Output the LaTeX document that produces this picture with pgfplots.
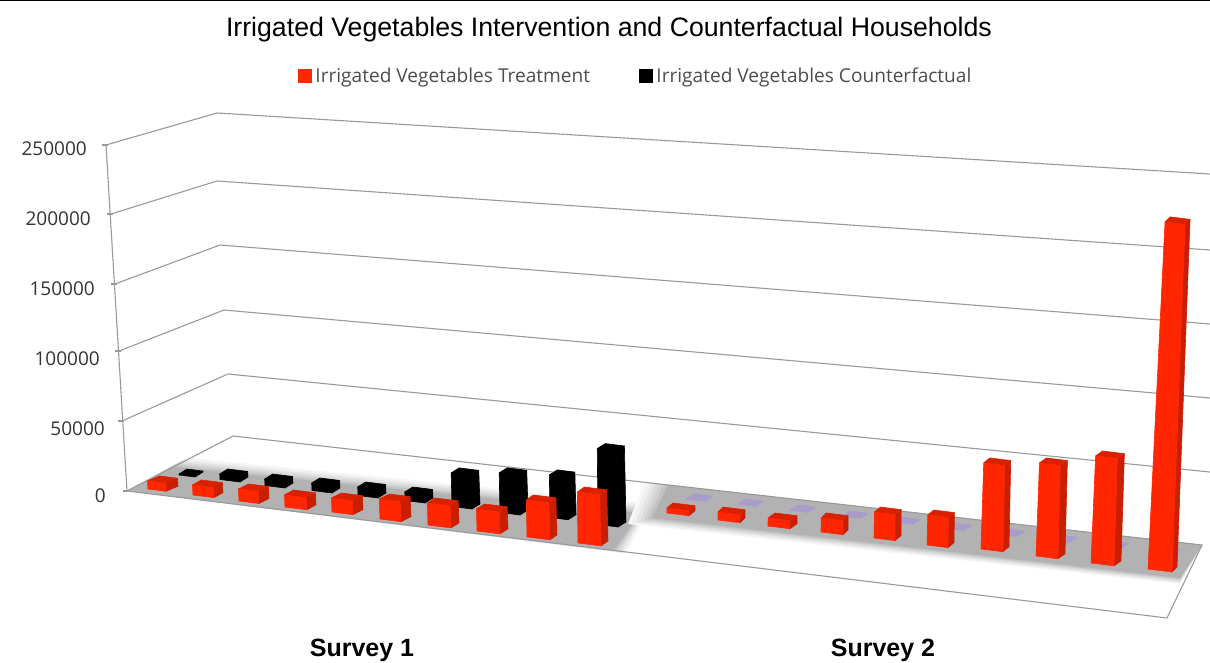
\documentclass[border=0pt]{standalone}
\usepackage{fontspec}
\setmainfont{Liberation Sans}
\newfontfamily\chartfont{Open Sans}
\usepackage{pgfplots}
\pgfplotsset{compat=1.18}

\definecolor{barred}{HTML}{FF2600}
\definecolor{barredside}{HTML}{C91E00}
\definecolor{barredtop}{HTML}{D92100}
\definecolor{lav}{HTML}{A99CCB}
\definecolor{wall}{HTML}{999999}

% One filled polygon in picture coordinates
\newcommand{\poly}[2]{%
  \edef\next{\noexpand\addplot[forget plot,#1] coordinates {#2};}\next}

% Box on the floor: left x, floor y, width, value in thousands, depth, colours.
% The vertical scale and the lean of the uprights follow the perspective.
\newcommand{\barbox}[8]{%
  \pgfmathsetmacro\kk{69+(#1-127)*0.0106}%
  \pgfmathsetmacro\hh{#4/50*\kk}%
  \pgfmathsetmacro\lean{-0.06+(#1-127)*0.00011}%
  \pgfmathsetmacro\xtl{#1+\hh*\lean}%
  \pgfmathsetmacro\wt{#3-0.0115*\hh}%
  \pgfmathsetmacro\ytl{#2-\hh}%
  \pgfmathsetmacro\xtr{\xtl+\wt}%
  \pgfmathsetmacro\ytr{\ytl+0.125*\wt}%
  \pgfmathsetmacro\xbr{#1+#3}%
  \pgfmathsetmacro\ybr{#2+0.125*#3}%
  \pgfmathsetmacro\xbb{\xbr+#5}%
  \pgfmathsetmacro\ybb{\ybr-5}%
  \pgfmathsetmacro\xtb{\xtr+#5}%
  \pgfmathsetmacro\ytb{\ytr-5}%
  \pgfmathsetmacro\xtc{\xtl+#5}%
  \pgfmathsetmacro\ytc{\ytl-5}%
  \poly{fill=#7,draw=#7,line width=.6pt,line join=round}{(\xbr,\ybr)(\xbb,\ybb)(\xtb,\ytb)(\xtr,\ytr)(\xbr,\ybr)}%
  \poly{fill=#8,draw=#8,line width=.6pt,line join=round}{(\xtl,\ytl)(\xtr,\ytr)(\xtb,\ytb)(\xtc,\ytc)(\xtl,\ytl)}%
  \poly{fill=#6,draw=#6,line width=.6pt,line join=round}{(#1,#2)(\xbr,\ybr)(\xtr,\ytr)(\xtl,\ytl)(#1,#2)}%
}
\newcommand{\redbar}[5]{\barbox{#1}{#2}{#3}{#4}{#5}{barred}{barredside}{barredtop}}
\newcommand{\blackbar}[5]{\barbox{#1}{#2}{#3}{#4}{#5}{black}{black}{black}}
\newcommand{\lavbar}[2]{\barbox{#1}{#2}{18}{0}{8}{lav}{lav}{lav}}

% Grey floor bands with a soft edge, first argument = how far the edge spreads
\newcommand{\bandone}[2]{%
  \pgfmathsetmacro\pax{172+1.2*#1}\pgfmathsetmacro\pay{467-0.8*#1}%
  \pgfmathsetmacro\pbx{640+#1}\pgfmathsetmacro\pby{513-0.8*#1}%
  \pgfmathsetmacro\pcx{614+#1}\pgfmathsetmacro\pcy{550+0.3*#1}%
  \poly{fill=#2,draw=none}{(127,491)(\pax,\pay)(\pbx,\pby)(\pcx,\pcy)(127,491)}}
\newcommand{\bandtwo}[2]{%
  \pgfmathsetmacro\pax{668-2*#1}\pgfmathsetmacro\pay{436+(\pax-233)*0.1127}%
  \pgfmathsetmacro\pcy{578+0.5*#1}\pgfmathsetmacro\pdx{652-2*#1}\pgfmathsetmacro\pdy{518+0.5*#1}%
  \poly{fill=#2,draw=none}{(\pax,\pay)(1202,545)(1180,\pcy)(\pdx,\pdy)(\pax,\pay)}}

\begin{document}
\begin{tikzpicture}
\begin{axis}[
  at={(110pt,23pt)},
  scale only axis, width=1100pt, height=610pt,
  xmin=110, xmax=1210, ymin=30, ymax=640, y dir=reverse,
  clip=false,
  axis line style={draw=none},
  major tick length=0pt,
  xtick={362,883},
  xticklabels={Survey 1,Survey 2},
  xticklabel style={font=\fontsize{25}{25}\selectfont\bfseries, yshift=3pt, inner sep=2pt},
  ytick={148,218,288,358,428,495},
  yticklabels={%
    250000\rule{23pt}{0pt},200000\rule{19pt}{0pt},150000\rule{15pt}{0pt},%
    100000\rule{10pt}{0pt},50000\rule{5pt}{0pt},0\rule{4pt}{0pt}},
  yticklabel style={font=\chartfont\fontsize{19}{19}\selectfont, text=black!80, inner sep=0pt, yshift=-1pt},
  title={Irrigated Vegetables Intervention and Counterfactual Households},
  title style={font=\fontsize{26.7}{27}\selectfont, at={(0.4536,1)}, anchor=south, inner sep=0pt, yshift=-18pt},
  legend columns=2,
  legend style={draw=none, fill=none, at={(0.4775,0.9246)}, anchor=center,
    font=\chartfont\fontsize{19.1}{19.1}\selectfont, text=black!70,
    inner sep=0pt, nodes={inner sep=1pt},
    /tikz/every even column/.append style={column sep=48pt}},
  legend image code/.code={\fill[#1] (0pt,-6pt) rectangle (13pt,7pt);\path (16pt,0pt);},
]
\addlegendimage{barred}
\addlegendentry{Irrigated Vegetables Treatment}
\addlegendimage{black}
\addlegendentry{Irrigated Vegetables Counterfactual}

% Rule along the top edge
\poly{draw=black,line width=1pt}{(0,0.5)(1210,0.5)}

% Back wall grid, one line per 50000
\poly{draw=wall,line width=1.1pt}{(106,145)(217,113)(1210,174)}
\poly{draw=wall,line width=1.1pt}{(111,214)(217,181)(1210,250)}
\poly{draw=wall,line width=1.1pt}{(115,284)(220,245)(1210,324)}
\poly{draw=wall,line width=1.1pt}{(119,351)(224,310)(1210,398)}
\poly{draw=wall,line width=1.1pt}{(122,421)(228,374)(1210,472)}
% Value axis and its ticks
\poly{draw=wall,line width=1.1pt}{(106,145)(127,491)}
\poly{draw=wall,line width=1.1pt}{(102,145)(108,145)}
\poly{draw=wall,line width=1.1pt}{(107,214)(113,214)}
\poly{draw=wall,line width=1.1pt}{(111,284)(117,284)}
\poly{draw=wall,line width=1.1pt}{(115,351)(121,351)}
\poly{draw=wall,line width=1.1pt}{(118,421)(124,421)}
\poly{draw=wall,line width=1.1pt}{(123,491)(129,491)}

% Floor bands, lightest spread first
\bandone{12}{black!3}
\bandone{10}{black!6}
\bandone{8}{black!10}
\bandone{6}{black!14}
\bandone{4}{black!19}
\bandone{2}{black!24}
\bandone{0}{black!30}
\bandtwo{12}{black!3}
\bandtwo{10}{black!6}
\bandtwo{8}{black!10}
\bandtwo{6}{black!14}
\bandtwo{4}{black!19}
\bandtwo{2}{black!24}
\bandtwo{0}{black!30}

% Floor outline
\poly{draw=wall,line width=1.1pt}{(127,491)(233,436)(1202,545)(1167,618)(127,491)}

% Counterfactual, Survey 2: all zero
\lavbar{686}{499}
\lavbar{738}{504}
\lavbar{790}{510}
\lavbar{842}{516}
\lavbar{894}{522}
\lavbar{946}{528}
\lavbar{999}{534}
\lavbar{1051}{540}
\lavbar{1103}{546}
\lavbar{1155}{552}

% Counterfactual, Survey 1
\blackbar{179}{475}{16}{0.7}{8}
\blackbar{220}{479.5}{20}{3.95}{8}
\blackbar{265}{485.5}{20}{4.6}{8}
\blackbar{312}{490.5}{20}{5.3}{8}
\blackbar{358}{495.5}{20}{5.95}{8}
\blackbar{405}{500.5}{20}{5.9}{8}
\blackbar{452}{506.5}{20}{23.2}{8}
\blackbar{500}{512.5}{20}{27.2}{8}
\blackbar{550}{517.5}{18}{29}{8}
\blackbar{598}{524.5}{20}{51.3}{8}

% Treatment, Survey 1
\redbar{148}{489}{18}{5.8}{12}
\redbar{193}{495}{21}{7.2}{9}
\redbar{239}{501}{20}{8.55}{10}
\redbar{285}{507}{22}{8.49}{9}
\redbar{332}{512}{21}{9.83}{10}
\redbar{380}{519}{21}{13.95}{10}
\redbar{428}{525}{23}{15.23}{8}
\redbar{477}{531}{23}{15.13}{8}
\redbar{527}{537}{23}{25.27}{7}
\redbar{578}{543}{23}{34.55}{7}

% Treatment, Survey 2
\redbar{667}{513}{22}{3.35}{6}
\redbar{718}{520}{22}{5.3}{5}
\redbar{768}{526}{22}{5.28}{7}
\redbar{821}{532}{22}{9.16}{5}
\redbar{874}{538}{21}{16.88}{6}
\redbar{927}{545}{21}{19.35}{6}
\redbar{981}{549}{22}{55.13}{6}
\redbar{1036}{556}{22}{59.16}{7}
\redbar{1091}{563}{23}{67.55}{7}
\redbar{1148}{569}{24}{217.4}{5}
\end{axis}
\pgfresetboundingbox
\path[use as bounding box] (0pt,0pt) rectangle (1210pt,663pt);
\end{tikzpicture}
\end{document}
